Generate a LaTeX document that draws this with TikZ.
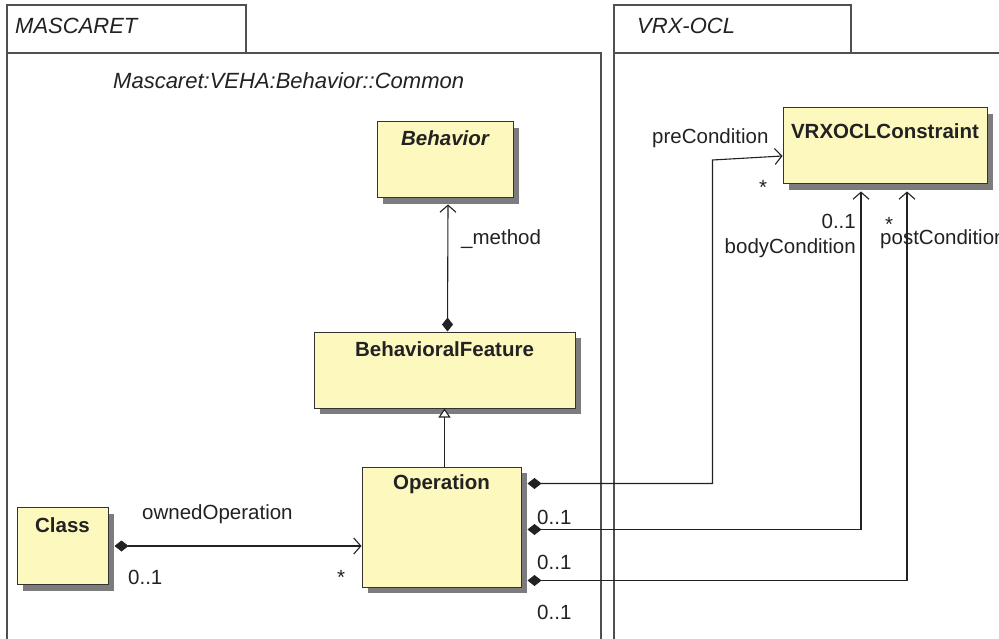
\documentclass[tikz,border=0pt]{standalone}
\usepackage{fontspec}
\setmainfont{Liberation Sans}
\usetikzlibrary{arrows.meta,shadows,calc}
\definecolor{umlfill}{HTML}{FCF8BE}
\definecolor{umlshadow}{HTML}{7C7C7E}
\definecolor{frameline}{HTML}{505050}
\definecolor{ink}{HTML}{222222}
\newcommand\umlcontent[4]{\parbox[c][#2pt][t]{#1pt}{\centering\vspace*{#3pt}#4\par}}
\begin{document}
\begin{tikzpicture}[x=1pt,y=-1pt,
  lab/.style={font=\fontsize{20.5}{24}\selectfont, inner sep=0pt, text=ink},
  pkg/.style={font=\fontsize{22}{26}\selectfont\itshape, inner sep=0pt, text=ink, anchor=base west},
  umlbox/.style={draw=black!80, line width=1pt, fill=umlfill, inner sep=0pt, text=ink,
     font=\fontsize{20.5}{24}\selectfont\bfseries,
     drop shadow={shadow xshift=6pt, shadow yshift=-6pt, fill=umlshadow, opacity=1}},
  frame/.style={draw=frameline, line width=1.2pt},
  conn/.style={line width=1.1pt, draw=ink},
  comp/.style={{Diamond[length=14pt,width=11pt]}-{Straight Barb[length=7pt,width=16pt]}},
  gen/.style={-{Triangle[open,length=9pt,width=12pt,fill=white]}}
]
\useasboundingbox[fill=white] (0,0) rectangle (999,639);

% package frames
\draw[frame] (7,5) rectangle (246,53);
\draw[frame] (7,650) -- (7,53) -- (601,53) -- (601,650);
\draw[frame] (614,5) rectangle (851,53);
\draw[frame] (614,650) -- (614,53) -- (1010,53);
\node[pkg] (pm) at (15,34) {MASCARET};
\node[pkg] (pv) at (637,34) {VRX-OCL};
\node[pkg] (pc) at (113,89) {Mascaret:VEHA:Behavior::Common};

% classes
\node[umlbox] (beh) at (445,160) {\umlcontent{136}{76}{9}{\itshape Behavior}};
\node[umlbox] (bf)  at (444.5,370) {\umlcontent{261}{76}{10}{BehavioralFeature}};
\node[umlbox] (op)  at (441.5,527) {\umlcontent{159}{120}{8}{Operation}};
\node[umlbox] (cls) at (62.5,546) {\umlcontent{91}{77}{10}{Class}};
\node[umlbox] (con) at (885,146) {\umlcontent{204}{76}{16}{VRXOCLConstraint}};

% connectors
\draw[conn, comp] ($(bf.north)+(3,0)$) -- ($(beh.south)+(3,6)$);
\draw[conn, gen] (op.north -| bf.south) -- (bf.south);
\draw[conn, comp] ($(cls.east)+(6,0)$) -- (cls.east -| op.west);

\coordinate (a1) at ($(op.north east)+(6,17)$);
\coordinate (a2) at ($(op.north east)+(6,63)$);
\coordinate (a3) at ($(op.north east)+(6,114)$);
\coordinate (preBend) at ($(con.west)+(-70,14)$);
\coordinate (bodyEnd) at ($(con.south)+(-24,7)$);
\coordinate (postEnd) at ($(con.south)+(22,7)$);

\draw[conn, comp] (a1) -| (preBend) -- ($(con.west)+(0,10)$);
\draw[conn, comp] (a2) -| (bodyEnd);
\draw[conn, comp] (a3) -| (postEnd);

% labels
\node[lab, anchor=base west] (lm) at (461,244) {\_method};
\node[lab, anchor=base west] (lo) at (142,519) {ownedOperation};
\node[lab, anchor=base west] (lc1) at (128,584) {0..1};
\node[lab, anchor=base west] (lcs) at (337,584) {*};
\node[lab, anchor=base west] (lpre) at (652,144) {preCondition};
\node[lab, anchor=base west] (lpres) at (759,195) {*};
\node[lab, anchor=base east] (lb1) at (856,229) {0..1};
\node[lab, anchor=base east] (lbody) at (856,254) {bodyCondition};
\node[lab, anchor=base west] (lposts) at (885,232) {*};
\node[lab, anchor=base west] (lpost) at (880,245) {postCondition};
\node[lab, anchor=base west] (lo1) at (537,524) {0..1};
\node[lab, anchor=base west] (lo2) at (537,569) {0..1};
\node[lab, anchor=base west] (lo3) at (537,619) {0..1};
\end{tikzpicture}
\end{document}
